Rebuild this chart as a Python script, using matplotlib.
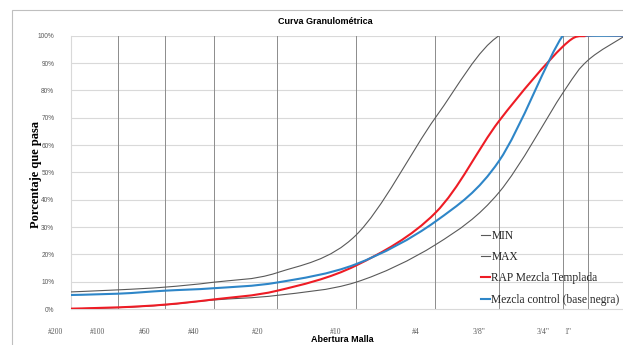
import numpy as np
import matplotlib
matplotlib.use('Agg')
import matplotlib.pyplot as plt
from matplotlib.path import Path
from matplotlib.patches import PathPatch, Rectangle
from matplotlib.lines import Line2D
from matplotlib.transforms import ScaledTranslation

# sieve openings (mm) and labels
sieves = [0.075, 0.15, 0.25, 0.425, 0.85, 2.0, 4.75, 9.5, 19.0, 25.0, 37.5]
sieve_labels = ['#200', '#100', '#60', '#40', '#20', '#10', '#4', '3/8"', '3/4"', '1"', '']

# percent passing
max_curve = [6, 7, 8, 9.8, 13.3, 27, 70, 100, 100, 100, 100]
min_curve = [0, 0.5, 1.5, 3.3, 5, 9.8, 23.5, 42.7, 79, 91, 100]
rap = [0, 0.6, 1.6, 3.5, 6.7, 15.9, 35.2, 68.8, 96, 100, 100]
control = [5, 5.6, 6.7, 7.6, 9.7, 16.4, 32, 54.2, 100, 100, 100]

names = ['MIN', 'MAX', 'RAP Mezcla Templada', 'Mezcla control (base negra)']
series = [min_curve, max_curve, rap, control]
colors = ['#595959', '#595959', '#ee1c25', '#2e86c8']
widths = [0.8, 0.8, 1.5, 1.5]


def smooth_path(xs, ys):
    # Excel-like smoothed line: Catmull-Rom beziers in log-x space
    pts = np.column_stack([np.log10(xs), ys])
    n = len(pts)
    verts = [pts[0]]
    codes = [Path.MOVETO]
    for i in range(n - 1):
        p0 = pts[i - 1] if i > 0 else pts[i]
        p1 = pts[i]
        p2 = pts[i + 1]
        p3 = pts[i + 2] if i + 2 < n else pts[i + 1]
        verts += [p1 + (p2 - p0) / 6, p2 - (p3 - p1) / 6, p2]
        codes += [Path.CURVE4] * 3
    verts = np.array(verts)
    verts[:, 0] = 10 ** verts[:, 0]
    return Path(verts, codes)


fig = plt.figure(figsize=(6.23, 3.45), dpi=100)
fig.add_artist(Rectangle((12 / 623, -0.2), 1.2, 1.2 - 10 / 345,
                         transform=fig.transFigure, fill=False,
                         edgecolor='#bfbfbf', lw=0.8))
ax = fig.add_axes([71 / 623, 1 - 309 / 345, 552 / 623, (309 - 35.7) / 345])

ax.set_xscale('log')
ax.set_xlim(0.09, 36.6)
ax.set_ylim(0, 100)

for y in range(10, 101, 10):
    ax.axhline(y, color='#d9d9d9', lw=0.8, zorder=1)
for s in sieves[1:10]:
    ax.axvline(s, color='#8c8c8c', lw=0.7, zorder=1)

handles = []
for name, ys, c, w in zip(names, series, colors, widths):
    ax.add_patch(PathPatch(smooth_path(sieves, ys), fill=False,
                           edgecolor=c, lw=w, zorder=3))
    handles.append(Line2D([], [], color=c, lw=w))

for side in ['left', 'bottom']:
    ax.spines[side].set_color('#d9d9d9')
    ax.spines[side].set_linewidth(0.8)
for side in ['top', 'right']:
    ax.spines[side].set_visible(False)

ax.set_yticks(range(0, 101, 10))
ax.set_yticklabels(['%d%%' % v for v in range(0, 101, 10)])
ax.tick_params(axis='y', length=0, pad=12, labelsize=4.7, labelcolor='#595959')
for lab in ax.get_yticklabels():
    lab.set_family('Liberation Sans')

ax.set_xticks(sieves[1:10])
ax.set_xticklabels(sieve_labels[1:10])
ax.xaxis.set_minor_locator(matplotlib.ticker.NullLocator())
ax.tick_params(axis='x', length=0, pad=14, labelsize=5.5, labelcolor='#595959')
shift = ScaledTranslation(-20 / 100, 0, fig.dpi_scale_trans)
for lab in ax.get_xticklabels():
    lab.set_family('Liberation Serif')
    lab.set_transform(lab.get_transform() + shift)
ax.text(0, -22.5 / 273, sieve_labels[0],
        transform=ax.transAxes + ScaledTranslation(-16 / 100, 0, fig.dpi_scale_trans),
        ha='center', va='center', fontsize=5.5, color='#595959', family='Liberation Serif')

fig.text(325 / 623, 1 - 21 / 345, 'Curva Granulométrica', ha='center', va='center',
         fontsize=6.5, fontweight='bold', family='Liberation Sans')
fig.text(36 / 623, 1 - 174 / 345, 'Porcentaje que pasa', rotation=90, ha='center', va='center',
         fontsize=9, fontweight='bold', family='Liberation Serif')
fig.text(342 / 623, 1 / 345, 'Abertura Malla', ha='center', va='bottom',
         fontsize=6.5, fontweight='bold', family='Liberation Sans')

leg = fig.legend(handles, names, loc='upper left',
                 bbox_to_anchor=(481 / 623, 1 - 230 / 345),
                 frameon=False, borderpad=0, borderaxespad=0,
                 handlelength=0.8, handletextpad=0.1, labelspacing=0.8,
                 prop={'family': 'Liberation Serif', 'size': 8.3})
for t in leg.get_texts():
    t.set_color('#262626')

fig.savefig('out.png', dpi=100)
